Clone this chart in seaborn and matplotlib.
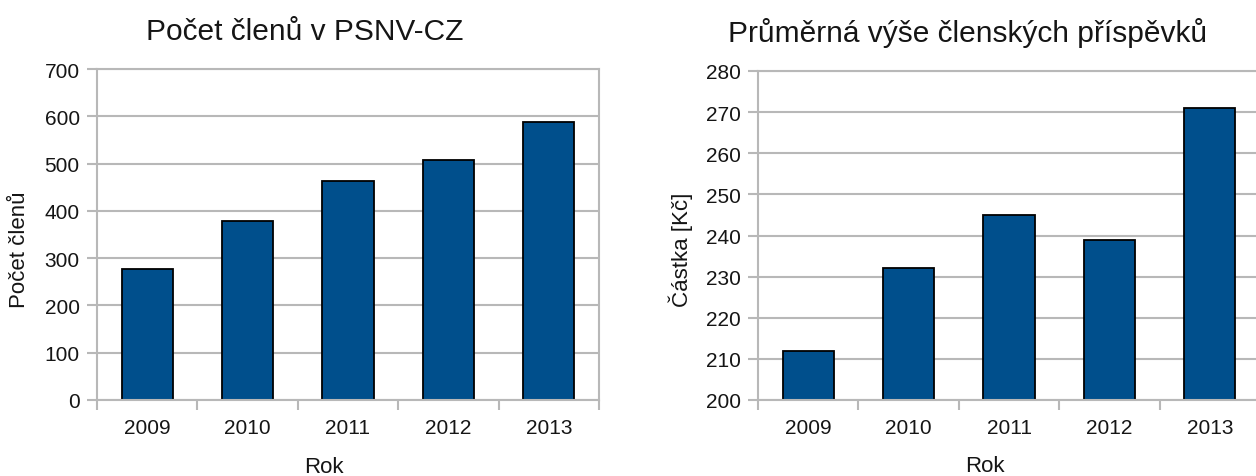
import seaborn as sns
import pandas as pd
import matplotlib.pyplot as plt

# data
years = ["2009", "2010", "2011", "2012", "2013"]
members = [277, 378, 464, 508, 587]
avg_fee = [212, 232, 245, 239, 271]

bar_color = "#004f8c"
grid_color = "#b8b8b8"
text_color = "#151515"

sns.set_theme(style="white")
plt.rcParams['font.family'] = ['Liberation Sans', 'DejaVu Sans']
plt.rcParams['text.color'] = text_color

fig = plt.figure(figsize=(12.56, 4.77), dpi=100)
ax1 = fig.add_axes([97 / 1256, 1 - 401 / 477, 502 / 1256, 331 / 477])
ax2 = fig.add_axes([758 / 1256, 1 - 401 / 477, 502 / 1256, 329 / 477])

df1 = pd.DataFrame({"Rok": years, "Počet": members})
df2 = pd.DataFrame({"Rok": years, "Částka": avg_fee})


def style_axis(ax, title, ylabel, ylim, step, title_x):
    ax.set_ylim(*ylim)
    ax.set_xlim(-0.5, len(years) - 0.5)
    ax.set_yticks(range(ylim[0], ylim[1] + 1, step))
    ax.set_axisbelow(True)
    ax.yaxis.grid(True, color=grid_color, linewidth=1.5)
    for s in ax.spines.values():
        s.set_color(grid_color)
        s.set_linewidth(1.5)
    # tick marks sit between the categories, like the office chart
    ax.set_xticks([i - 0.5 for i in range(len(years) + 1)], minor=True)
    ax.tick_params(axis="x", which="minor", length=7.5, width=1.5,
                   color=grid_color, direction="out", bottom=True)
    ax.tick_params(axis="x", which="major", length=0, pad=13,
                   labelsize=15, labelcolor=text_color)
    ax.tick_params(axis="y", length=7.5, width=1.5, color=grid_color,
                   direction="out", left=True, pad=5,
                   labelsize=15, labelcolor=text_color)
    ax.set_xlabel("Rok", fontsize=16, color=text_color)
    ax.xaxis.set_label_coords(0.452, -0.168)
    ax.set_ylabel(ylabel, fontsize=16, color=text_color)
    ax.text(title_x, 1.092, title, transform=ax.transAxes, ha="center",
            va="baseline", fontsize=21.5, color=text_color)


sns.barplot(data=df1, x="Rok", y="Počet", ax=ax1, color=bar_color,
            width=0.51, edgecolor="black", linewidth=1.3, saturation=1)
style_axis(ax1, "Počet členů v PSNV-CZ", "Počet členů", (0, 700), 100, 0.414)
ax1.yaxis.set_label_coords(-0.134, 0.456)

sns.barplot(data=df2, x="Rok", y="Částka", ax=ax2, color=bar_color,
            width=0.51, edgecolor="black", linewidth=1.3, saturation=1)
style_axis(ax2, "Průměrná výše členských příspěvků", "Částka [Kč]",
           (200, 280), 10, 0.418)
ax2.yaxis.set_label_coords(-0.129, 0.459)

fig.savefig("out.png", dpi=100)
